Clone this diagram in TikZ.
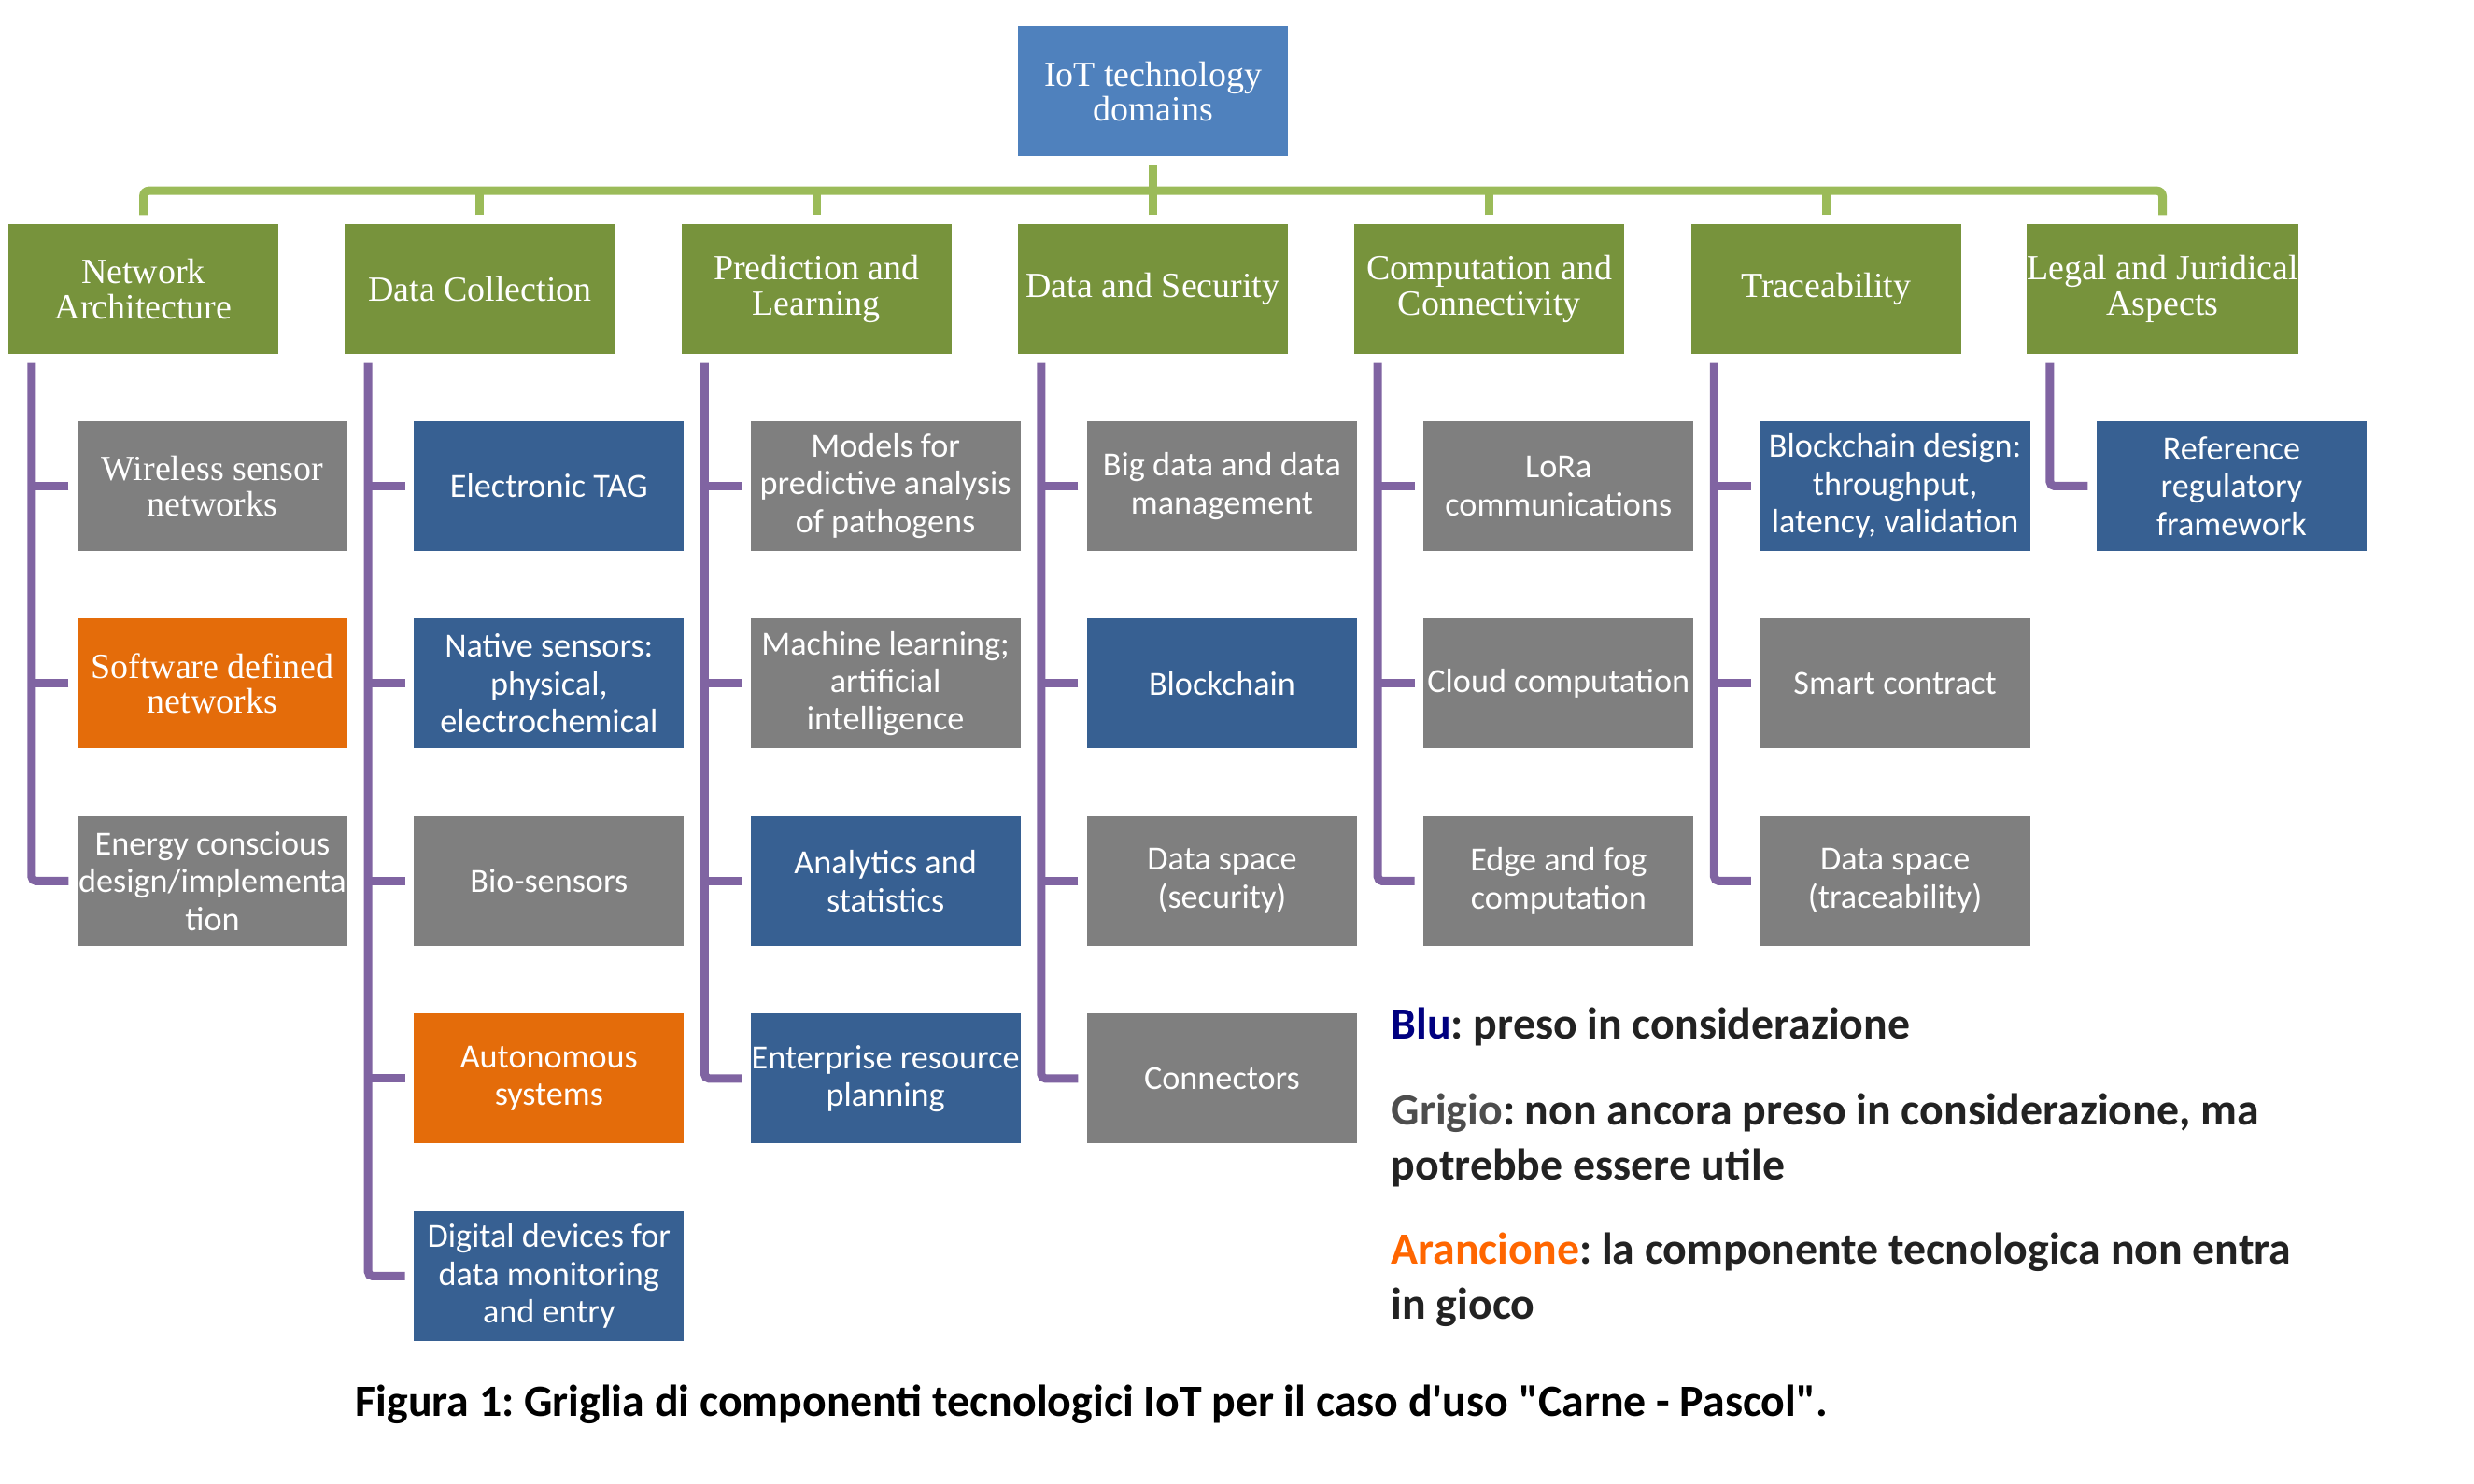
\documentclass[tikz,border=0pt]{standalone}
\usepackage{fontspec}
\setmainfont{Liberation Serif}
\newfontfamily\calibri{Carlito}
\frenchspacing
\definecolor{rootblue}{HTML}{4F81BD}
\definecolor{domaingreen}{HTML}{77933C}
\definecolor{busgreen}{HTML}{9BBB59}
\definecolor{spinepurple}{HTML}{8064A2}
\definecolor{grigio}{HTML}{7F7F7F}
\definecolor{blu}{HTML}{376092}
\definecolor{arancio}{HTML}{E46C0A}
\definecolor{legblu}{HTML}{000080}
\definecolor{leggrigio}{HTML}{4D4D4D}
\definecolor{legarancio}{HTML}{FF6600}
\definecolor{legtext}{HTML}{222222}
\newcommand\cambriatext{\fontsize{10.8}{10.6}\selectfont}
\newcommand\calibritext{\calibri\fontsize{10.3}{11.5}\selectfont}
\tikzset{
  box/.style={minimum width=2.89cm, minimum height=1.39cm, inner sep=0pt,
    align=center, text=white},
  busline/.style={draw=busgreen, line width=0.09cm},
  spine/.style={draw=spinepurple, line width=0.09cm},
  legend/.style={inner sep=0pt, align=left, anchor=base west, text=legtext,
    font=\calibri\bfseries\fontsize{13.6}{16.8}\selectfont}
}

\begin{document}
\begin{tikzpicture}
  \useasboundingbox (0,0) rectangle (26.49,-15.89);
  % Root and the seven domains
  \node[box, fill=rootblue, font=\cambriatext] (root) at (12.345,-0.98) {IoT technology\\domains};
  \foreach \i/\name in {0/{Network\\Architecture}, 1/{Data Collection},
      2/{Prediction and\\Learning}, 3/{Data and Security},
      4/{Computation and\\Connectivity}, 5/{Traceability},
      6/{Legal and Juridical\\Aspects}}
    \node[box, fill=domaingreen, font=\cambriatext] (d\i) at (1.535+3.6033*\i, -3.095) {\name};
  % Green bus from the root to the domains
  \coordinate (bus) at ([yshift=-0.36cm]root.south);
  \draw[busline] ([yshift=-0.09cm]root.south) -- (bus);
  \draw[busline, rounded corners=0.06cm] ([yshift=0.09cm]d0.north) |- (bus) -| ([yshift=0.09cm]d6.north);
  \foreach \i in {1,...,5}
    \draw[busline] ([yshift=0.09cm]d\i.north) -- (d\i.north |- bus);
  % Technology components
  \foreach \c/\r/\f/\s/\t in {
      0/0/\cambriatext/grigio/{Wireless sensor\\networks},
      0/1/\cambriatext/arancio/{Software defined\\networks},
      0/2/\calibritext/grigio/{Energy conscious\\design/implementa\\tion},
      1/0/\calibritext/blu/{Electronic TAG},
      1/1/\calibritext/blu/{Native sensors:\\physical,\\electrochemical},
      1/2/\calibritext/grigio/{Bio-sensors},
      1/3/\calibritext/arancio/{Autonomous\\systems},
      1/4/\calibritext/blu/{Digital devices for\\data monitoring\\and entry},
      2/0/\calibritext/grigio/{Models for\\predictive analysis\\of pathogens},
      2/1/\calibritext/grigio/{Machine learning;\\artificial\\intelligence},
      2/2/\calibritext/blu/{Analytics and\\statistics},
      2/3/\calibritext/blu/{Enterprise resource\\planning},
      3/0/\calibritext/grigio/{Big data and data\\management},
      3/1/\calibritext/blu/{Blockchain},
      3/2/\calibritext/grigio/{Data space\\(security)},
      3/3/\calibritext/grigio/{Connectors},
      4/0/\calibritext/grigio/{LoRa\\communications},
      4/1/\calibritext/grigio/{Cloud computation},
      4/2/\calibritext/grigio/{Edge and fog\\computation},
      5/0/\calibritext/blu/{Blockchain design:\\throughput,\\latency, validation},
      5/1/\calibritext/grigio/{Smart contract},
      5/2/\calibritext/grigio/{Data space\\(traceability)},
      6/0/\calibritext/blu/{Reference\\regulatory\\framework}}
    \node[box, fill=\s, font=\f] (c\c\r) at (2.275+3.6033*\c, -5.205-2.115*\r) {\t};
  % Purple spines and ticks
  \foreach \c/\n in {0/2, 1/4, 2/3, 3/3, 4/2, 5/2, 6/0} {
    \coordinate (s\c) at ([xshift=0.255cm, yshift=-0.09cm]d\c.south west);
    \draw[spine, rounded corners=0.05cm] (s\c) |- ([xshift=-0.09cm]c\c\n.west);
  }
  \foreach \c/\r in {0/0, 0/1, 1/0, 1/1, 1/2, 1/3, 2/0, 2/1, 2/2, 3/0, 3/1, 3/2,
      4/0, 4/1, 5/0, 5/1}
    \draw[spine] ([xshift=-0.09cm]c\c\r.west) -- (s\c |- c\c\r.west);
  % Legend and caption
  \node[legend] (legblu) at (14.89,-11.13) {\textcolor{legblu}{Blu}: preso in considerazione};
  \node[legend] (leggrigio) at (14.89,-12.64) {\textcolor{leggrigio}{Grigio}: non ancora preso in considerazione, ma\\potrebbe essere utile};
  \node[legend] (legarancio) at (14.89,-14.13) {\textcolor{legarancio}{Arancione}: la componente tecnologica non entra\\in gioco};
  \node[legend, text=black, font=\calibri\bfseries\fontsize{13.6}{16}\selectfont] (caption) at (3.80,-15.17)
    {Figura 1: Griglia di componenti tecnologici IoT per il caso d\textquotesingle uso "Carne - Pascol".};
\end{tikzpicture}
\end{document}
